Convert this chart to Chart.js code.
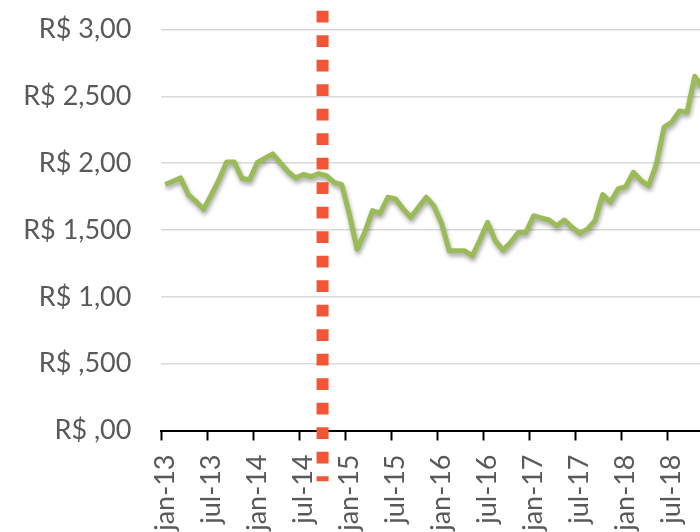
<!DOCTYPE html>
<html>
<head>
<meta charset="utf-8">
<script src="https://cdn.jsdelivr.net/npm/chart.js@4/dist/chart.umd.min.js"></script>
<style>
  html, body { margin: 0; padding: 0; background: #fff; overflow: hidden; }
  #wrap { position: relative; width: 730px; height: 600px; }
</style>
</head>
<body>
<div id="wrap"><canvas id="priceChart"></canvas></div>
<script>
// month names used for the category axis (pt-BR)
const monthNames = ['jan', 'fev', 'mar', 'abr', 'mai', 'jun', 'jul', 'ago', 'set', 'out', 'nov', 'dez'];
const years = ['13', '14', '15', '16', '17', '18'];

// monthly price, jan-13 .. nov-18 (R$)
const prices = [
    1.84, 1.865, 1.89, 1.765, 1.715, 1.656, 1.763, 1.877, 2.009, 2.009, 1.885, 1.877,
    2.005, 2.037, 2.07, 2.003, 1.936, 1.89, 1.915, 1.90, 1.922, 1.907, 1.857, 1.84,
    1.616, 1.357, 1.482, 1.645, 1.625, 1.745, 1.733, 1.658, 1.595, 1.671, 1.745, 1.682,
    1.551, 1.345, 1.345, 1.345, 1.307, 1.425, 1.557, 1.42, 1.35, 1.407, 1.482, 1.482,
    1.607, 1.59, 1.575, 1.532, 1.575, 1.52, 1.475, 1.507, 1.57, 1.765, 1.707, 1.807,
    1.825, 1.932, 1.87, 1.832, 1.995, 2.27, 2.307, 2.39, 2.382, 2.65, 2.56
];

// dotted marker line: start of out-14 (month index 21)
const markerMonthIndex = 21;
const markerRange = [3.14, -0.38];

// y axis labels as printed (one per 0,5 step)
const yTickLabels = ['R$ ,00', 'R$ ,500', 'R$ 1,00', 'R$ 1,500', 'R$ 2,00', 'R$ 2,500', 'R$ 3,00'];

const labels = [];
years.forEach(y => monthNames.forEach(m => labels.push(m + '-' + y)));
labels.length = prices.length;

const GRAY = '#595959';
const FONT = { family: 'Lato', size: 27 };

const lineShadow = {
    id: 'lineShadow',
    beforeDatasetDraw(chart, args) {
        if (args.meta.label !== 'Preço') return;
        const ctx = chart.ctx;
        ctx.save();
        ctx.shadowColor = 'rgba(0,0,0,0.35)';
        ctx.shadowBlur = 4;
        ctx.shadowOffsetX = 1;
        ctx.shadowOffsetY = 3;
    },
    afterDatasetDraw(chart, args) {
        if (args.meta.label !== 'Preço') return;
        chart.ctx.restore();
    }
};

new Chart(document.getElementById('priceChart'), {
    type: 'line',
    data: {
        labels,
        datasets: [{
            label: 'Preço',
            data: prices,
            borderColor: '#9BBB59',
            borderWidth: 5,
            borderJoinStyle: 'round',
            pointRadius: 0,
            tension: 0,
            order: 1
        }, {
            label: 'Marco',
            xAxisID: 'x2',
            data: markerRange.map(v => ({ x: markerMonthIndex, y: v })),
            borderColor: '#F25636',
            borderWidth: 12,
            borderDash: [11.7, 12.8],
            borderCapStyle: 'butt',
            pointRadius: 0,
            clip: false,
            order: 0
        }]
    },
    options: {
        responsive: true,
        maintainAspectRatio: false,
        animation: false,
        layout: { padding: { top: 29.5, right: 23.7, left: 0, bottom: 0 } },
        plugins: {
            legend: { display: false },
            tooltip: { enabled: false }
        },
        scales: {
            x: {
                offset: true,
                grid: {
                    offset: true,
                    drawOnChartArea: false,
                    drawTicks: true,
                    tickLength: 10,
                    tickWidth: 2,
                    color: ctx => (ctx.index % 6 === 0 ? '#000' : 'rgba(0,0,0,0)')
                },
                border: { display: true, color: '#000', width: 2 },
                ticks: {
                    autoSkip: false,
                    minRotation: 90,
                    maxRotation: 90,
                    padding: 14,
                    color: GRAY,
                    font: FONT,
                    callback: (v, i) => (i % 6 === 0 ? labels[i] : '')
                },
                afterFit: scale => {
                    scale.height = 169.5;
                    scale.paddingLeft = 0;
                    scale.paddingRight = 0;
                }
            },
            x2: {
                type: 'linear',
                display: false,
                min: 0,
                max: prices.length
            },
            y: {
                min: 0,
                max: 3,
                grid: {
                    color: '#d9d9d9',
                    lineWidth: 1.5,
                    drawTicks: false
                },
                border: { display: false },
                ticks: {
                    stepSize: 0.5,
                    padding: 30,
                    color: GRAY,
                    font: FONT,
                    callback: v => yTickLabels[Math.round(v / 0.5)]
                },
                afterFit: scale => {
                    scale.width = 161.4;
                    scale.paddingTop = 0;
                    scale.paddingBottom = 0;
                }
            }
        }
    },
    plugins: [lineShadow]
});
</script>
</body>
</html>
